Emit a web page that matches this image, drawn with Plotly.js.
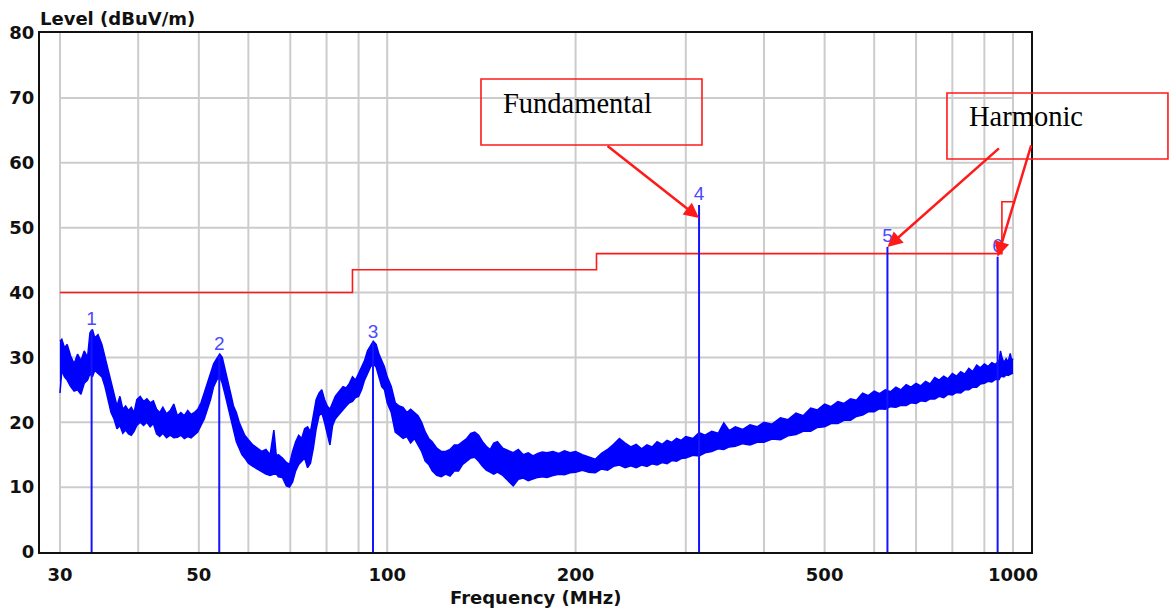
<!DOCTYPE html>
<html>
<head>
<meta charset="utf-8">
<script src="https://cdn.plot.ly/plotly-3.0.1.min.js"></script>
<style>html,body{margin:0;padding:0;background:#fff;}#chart{width:1176px;height:615px;}</style>
</head>
<body>
<div id="chart"></div>
<script>
// ---- data ----
const spectrumFreq = [30.0,30.2,30.5,30.8,31.2,31.6,32.0,32.4,32.8,33.2,
  33.5,33.8,34.1,34.5,35.0,35.4,35.8,36.2,36.6,37.0,
  37.4,37.8,38.2,38.6,39.0,39.4,39.8,40.3,40.8,41.3,
  41.8,42.3,42.8,43.3,43.8,44.4,45.0,45.6,46.2,46.8,
  47.4,48.0,48.6,49.2,49.8,50.4,51.0,51.6,52.2,52.8,
  53.4,54.0,54.5,55.0,55.6,56.2,56.8,57.4,58.0,58.6,
  59.2,60.0,61.0,62.0,63.0,64.0,65.0,65.9,66.5,67.0,
  68.0,69.0,69.8,70.6,71.4,72.2,73.0,73.8,74.6,75.4,
  76.2,77.0,77.8,78.6,79.4,80.2,81.0,81.8,82.6,83.4,
  84.2,85.0,86.0,87.0,88.0,89.0,90.0,91.0,92.0,93.0,
  94.0,95.0,96.0,97.0,98.0,99.0,100.0,101.5,103.0,104.5,
  106.0,107.5,109.0,110.5,112.0,113.5,115.0,116.5,118.0,120.0,
  122.0,124.0,126.0,128.0,130.0,132.0,134.0,136.0,138.0,140.0,
  142.0,144.0,146.0,148.0,150.0,153.0,156.0,159.0,162.0,165.0,
  168.0,171.0,174.0,177.0,180.0,184.0,188.0,192.0,196.0,
  200,205,210,215,220,225,230,235,240,245,
  250,255,260,265,270,275,280,285,290,295,
  300,308,315,322,330,338,345,352,360,370,
  380,390,400,412,425,437,450,462,475,487,
  500,512,525,537,550,562,575,587,600,612,
  625,637,650,662,675,687,700,712,725,737,
  750,762,775,787,800,812,825,837,850,862,
  875,887,900,912,925,937,950,955,960,967,
  975,982,990,995,1000];
const spectrumHigh = [32.5,32.8,31.5,32.0,30.2,29.0,30.5,29.5,31.0,30.0,
  33.8,34.3,33.0,33.5,32.0,30.0,28.0,26.0,24.5,22.5,
  24.0,22.0,22.5,21.8,22.3,21.5,23.5,24.0,23.2,23.6,
  23.0,23.3,22.0,21.5,22.3,21.3,21.8,22.8,21.0,21.5,
  21.0,21.8,21.2,21.5,22.0,23.0,24.5,26.0,27.5,29.0,
  29.8,30.5,30.0,28.5,26.5,24.5,22.5,21.5,20.0,19.0,
  18.0,17.3,16.5,16.0,15.5,15.8,15.0,18.8,14.8,15.0,
  14.5,13.8,13.5,15.5,17.0,18.0,17.5,19.0,19.3,18.5,
  21.0,23.5,24.5,25.0,23.5,22.5,22.0,23.0,24.0,24.5,
  25.0,25.5,25.3,26.0,27.0,26.5,27.5,28.5,29.5,31.0,
  31.8,32.5,32.0,30.5,29.5,28.5,27.0,25.5,23.0,22.5,
  22.3,21.5,22.0,21.5,21.0,20.0,18.5,17.5,17.0,16.0,
  15.5,15.5,15.8,16.5,16.5,17.0,17.5,18.3,18.5,18.0,
  17.0,16.3,15.8,16.8,17.0,16.0,15.6,15.3,15.8,15.0,
  15.3,14.8,15.2,15.4,15.3,15.5,15.2,15.6,15.3,
  15.5,15.0,14.6,14.3,15.2,15.8,16.6,17.5,16.8,16.2,
  16.6,15.9,16.5,16.2,17.0,16.6,17.2,16.9,17.5,17.2,
  17.8,17.5,18.4,18.0,18.6,18.3,19.9,18.7,19.3,18.9,
  19.6,19.3,20.0,19.7,20.7,20.4,21.4,21.0,22.2,21.9,
  22.8,22.4,23.2,22.9,23.6,23.4,24.5,24.1,24.8,24.4,
  25.0,24.7,25.4,25.0,25.8,25.4,26.0,25.6,26.3,25.9,
  26.9,26.5,27.1,26.7,27.5,27.1,27.8,27.4,28.3,27.8,
  28.8,28.4,29.0,28.6,29.2,28.9,29.5,31.0,30.0,29.2,
  29.8,29.3,30.6,29.5,29.8];
const spectrumLow = [24.5,28.0,27.0,26.5,25.5,24.8,25.0,24.3,26.0,26.5,
  27.5,27.0,28.0,27.5,27.0,25.5,23.5,21.5,20.5,19.0,
  19.5,18.3,18.8,18.2,18.0,18.6,19.5,20.0,19.5,20.0,
  19.3,19.8,18.2,17.8,18.3,17.6,18.0,17.6,17.7,18.0,
  17.5,17.8,17.6,18.0,18.5,19.5,20.5,22.0,23.5,25.5,
  26.5,27.0,26.0,24.5,22.5,20.5,18.5,17.0,16.0,15.0,
  14.5,13.7,13.2,12.8,12.3,12.0,11.8,12.0,12.0,11.6,
  11.5,10.2,10.0,10.8,12.5,13.5,14.0,14.5,13.0,13.7,
  16.0,19.0,21.0,21.5,20.0,18.0,16.5,19.5,20.5,21.0,
  21.5,22.0,22.5,23.0,23.2,23.8,24.0,25.0,26.5,27.5,
  28.5,29.0,28.5,27.0,25.5,25.0,23.0,21.5,18.5,18.0,
  17.5,17.8,16.8,17.5,16.5,15.5,14.0,13.5,12.5,11.8,
  11.6,12.0,11.7,12.5,12.5,13.5,14.0,14.5,14.6,14.0,
  13.2,12.6,12.3,12.0,12.3,11.8,11.0,10.2,11.2,11.4,
  11.0,11.3,11.5,11.6,11.5,11.8,12.0,11.9,12.2,
  12.3,12.6,12.3,12.2,12.8,12.6,13.2,13.4,13.0,13.3,
  13.0,13.4,13.2,13.6,13.4,13.8,13.6,14.1,14.0,14.4,
  14.5,14.9,14.8,15.3,15.5,15.9,15.8,16.2,16.3,16.7,
  16.5,16.9,16.9,17.4,17.3,17.9,18.1,18.6,18.6,19.2,
  19.3,19.8,19.8,20.3,20.3,20.9,21.1,21.6,21.6,22.1,
  22.0,22.4,22.3,22.6,22.6,23.0,22.9,23.3,23.2,23.6,
  23.6,24.0,23.8,24.3,24.2,24.6,24.5,25.0,25.0,25.4,
  25.4,25.9,26.0,26.3,26.2,26.6,26.6,27.0,27.1,27.0,
  27.3,27.2,27.4,27.5,27.6];

const limitFreq  = [30, 88, 88, 216, 216, 960, 960, 1000];
const limitLevel = [40, 40, 43.5, 43.5, 46, 46, 54, 54];

const markerFreq   = [33.7, 53.9, 94.9, 315, 630, 945];
const markerLevel  = [34.2, 30.4, 32.3, 53.5, 47.0, 45.5];
const markerLabels = ['1', '2', '3', '4', '5', '6'];

const xTickVals   = [30, 50, 100, 200, 500, 1000];
const xTickText   = ['30', '50', '100', '200', '500', '1000'];
const yTickVals   = [0, 10, 20, 30, 40, 50, 60, 70, 80];
const xGridVals   = [30, 40, 50, 60, 70, 80, 90, 100, 200, 300, 400, 500, 600, 700, 800, 900, 1000];
const yGridVals   = [10, 20, 30, 40, 50, 60, 70];

// ---- build traces ----
const BLUE = '#0000ff';
const RED = '#ff1a1a';

const lowTrace = {
  x: spectrumFreq, y: spectrumLow, type: 'scatter', mode: 'lines',
  line: {color: BLUE, width: 1.5}, hoverinfo: 'skip', showlegend: false
};
const highTrace = {
  x: spectrumFreq, y: spectrumHigh, type: 'scatter', mode: 'lines',
  line: {color: BLUE, width: 1.5}, fill: 'tonexty', fillcolor: BLUE,
  hoverinfo: 'skip', showlegend: false
};
const limitTrace = {
  x: limitFreq, y: limitLevel, type: 'scatter', mode: 'lines',
  line: {color: RED, width: 1.6}, showlegend: false
};
const mx = [], my = [];
markerFreq.forEach((f, i) => { mx.push(f, f, null); my.push(0, markerLevel[i], null); });
const markerTrace = {
  x: mx, y: my, type: 'scatter', mode: 'lines',
  line: {color: '#1414ff', width: 2}, showlegend: false
};
const labelTrace = {
  x: markerFreq, y: markerLevel, type: 'scatter', mode: 'text',
  text: markerLabels, textposition: 'top center',
  textfont: {family: 'Liberation Sans, Arial, sans-serif', size: 19, color: '#4a4aff'},
  showlegend: false
};

// ---- grid as shapes (only inside 30-1000 MHz / 0-80) ----
const shapes = [];
xGridVals.forEach(v => shapes.push({type: 'line', xref: 'x', yref: 'y', x0: v, x1: v, y0: 0, y1: 80,
  line: {color: '#cccccc', width: 2}, layer: 'below'}));
yGridVals.forEach(v => shapes.push({type: 'line', xref: 'x', yref: 'y', x0: 30, x1: 1000, y0: v, y1: v,
  line: {color: '#cccccc', width: 2}, layer: 'below'}));
// callout boxes
shapes.push({type: 'rect', xref: 'paper', yref: 'paper', x0: 0.4450, x1: 0.6680, y0: 0.7842, y1: 0.9114,
  line: {color: RED, width: 1.6}, fillcolor: 'rgba(0,0,0,0)'});
shapes.push({type: 'rect', xref: 'paper', yref: 'paper', x0: 0.9152, x1: 1.1382, y0: 0.7572, y1: 0.8844,
  line: {color: RED, width: 1.6}, fillcolor: 'rgba(0,0,0,0)'});

const serif = 'Liberation Serif, Times New Roman, serif';
const sansFam = 'DejaVu Sans, Verdana, sans-serif';
const sansB = {family: sansFam, size: 18, color: '#111', weight: 'bold'};

const arrowBase = {text: '', showarrow: true, arrowhead: 2, arrowsize: 1.2, arrowwidth: 2.5,
  arrowcolor: RED, xref: 'x', yref: 'y', axref: 'pixel', ayref: 'pixel', standoff: 0};

const annotations = [
  {text: 'Level (dBuV/m)', xref: 'paper', yref: 'paper', x: 0, y: 1, xanchor: 'left', yanchor: 'bottom',
   yshift: 2, xshift: -2, showarrow: false, font: sansB},
  {text: 'Frequency (MHz)', xref: 'paper', yref: 'paper', x: 0.5, y: -0.0886, xanchor: 'center', yanchor: 'middle',
   showarrow: false, font: sansB},
  {text: 'Fundamental', xref: 'paper', yref: 'paper', x: 0.4652, y: 0.8632, xanchor: 'left', yanchor: 'middle',
   showarrow: false, font: {family: serif, size: 28.5, color: '#000'}},
  {text: 'Harmonic', xref: 'paper', yref: 'paper', x: 0.9354, y: 0.8382, xanchor: 'left', yanchor: 'middle',
   showarrow: false, font: {family: serif, size: 28.5, color: '#000'}},
  Object.assign({}, arrowBase, {x: Math.log10(markerFreq[3]), y: markerLevel[3] - 2, ax: -93, ay: -73}),
  Object.assign({}, arrowBase, {x: Math.log10(markerFreq[4]), y: markerLevel[4], ax: 113, ay: -100}),
  Object.assign({}, arrowBase, {x: Math.log10(markerFreq[5]), y: markerLevel[5], ax: 34, ay: -113})
];

const layout = {
  width: 1176, height: 615,
  margin: {l: 40, r: 145, t: 33, b: 63},
  paper_bgcolor: '#ffffff', plot_bgcolor: '#ffffff',
  showlegend: false,
  xaxis: {
    type: 'log', range: [1.44517, 3.02875], showgrid: false, zeroline: false,
    tickvals: xTickVals, ticktext: xTickText, ticks: '', ticklabelstandoff: 5,
    tickfont: sansB,
    showline: true, mirror: true, linecolor: '#111', linewidth: 2
  },
  yaxis: {
    range: [0, 80], showgrid: false, zeroline: false,
    tickvals: yTickVals, ticks: '', ticklabelstandoff: 0,
    tickfont: sansB,
    showline: true, mirror: true, linecolor: '#111', linewidth: 2
  },
  shapes: shapes,
  annotations: annotations
};

Plotly.newPlot('chart', [lowTrace, highTrace, limitTrace, markerTrace, labelTrace], layout,
  {displayModeBar: false, staticPlot: true});
</script>
</body>
</html>
